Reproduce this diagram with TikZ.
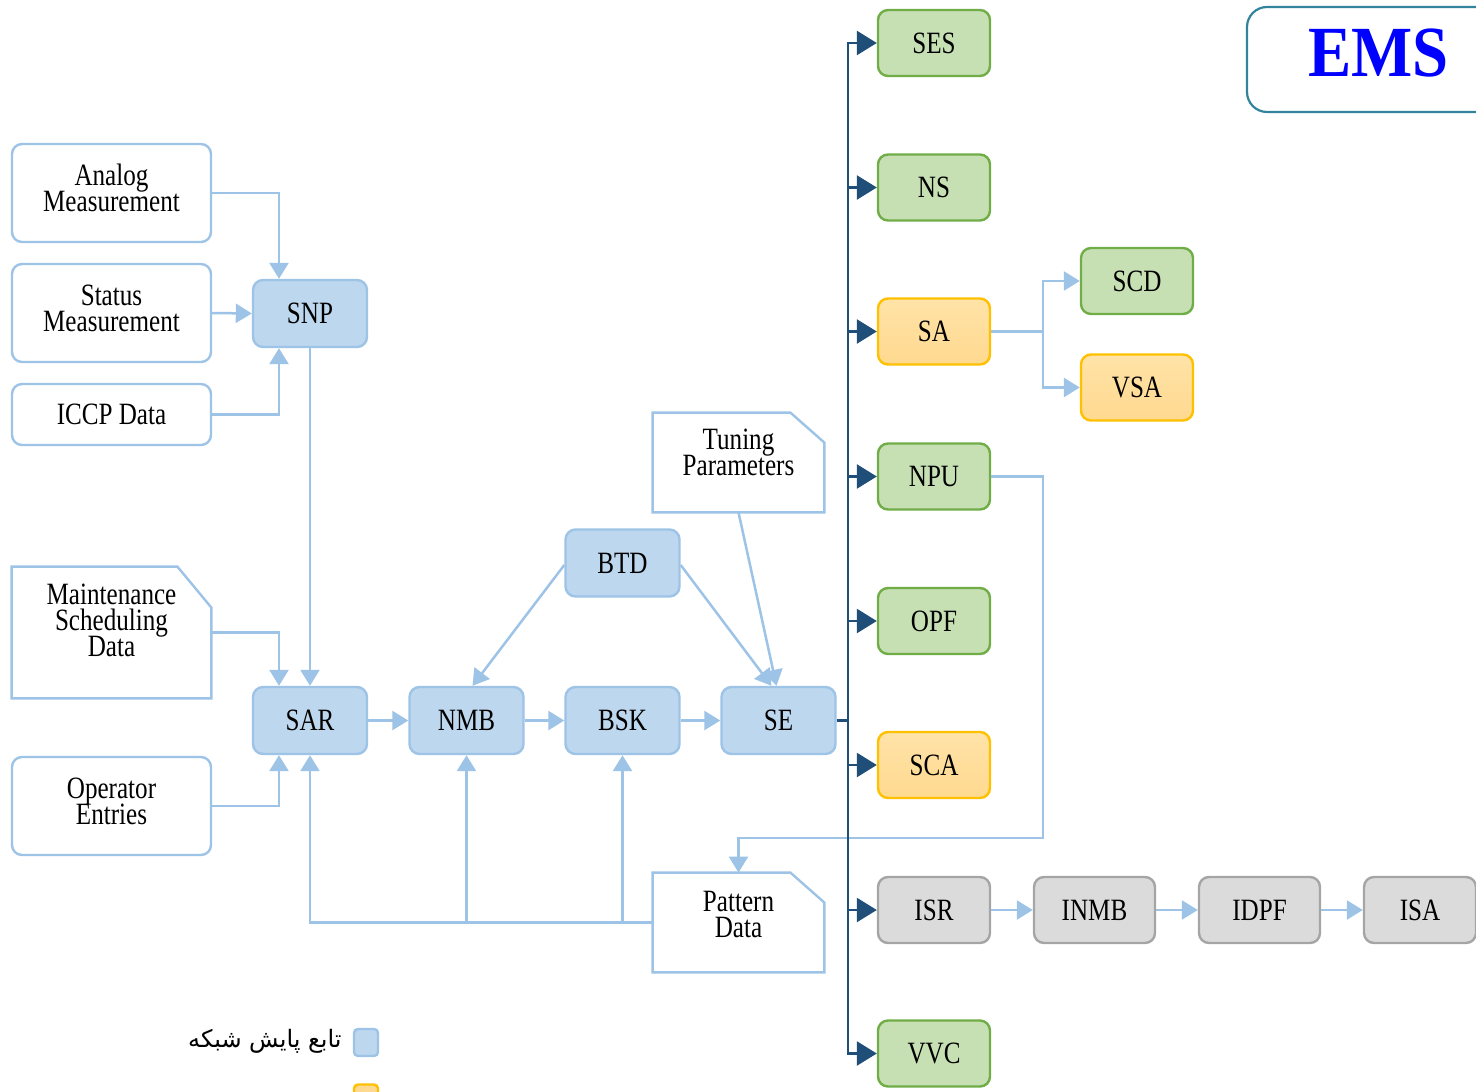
\documentclass[tikz,border=0pt]{standalone}
\usepackage{fontspec}
\setmainfont{Liberation Serif}[FakeStretch=0.81]
\newfontfamily\emsfont{Liberation Serif}[FakeStretch=0.9]
\newfontfamily\arabicfont[Script=Arabic]{DejaVu Sans}
\TeXXeTstate=1
\usetikzlibrary{arrows.meta,calc}
% keep the tight line spacing of the captions even for lines with descenders
\AtBeginDocument{\setlength{\lineskiplimit}{-20pt}}

\definecolor{inbord}{HTML}{9DC3E6}
\definecolor{fnfill}{HTML}{BDD7EE}
\definecolor{grfill}{HTML}{C6E0B4}
\definecolor{grbord}{HTML}{70AD47}
\definecolor{yefill}{HTML}{FFD98F}
\definecolor{yetop}{HTML}{FFE3A8}
\definecolor{yebord}{HTML}{FFC000}
\definecolor{gyfill}{HTML}{DBDBDB}
\definecolor{gybord}{HTML}{A5A5A5}
\definecolor{busc}{HTML}{1F4E79}
\definecolor{emsc}{HTML}{31849B}
\definecolor{emstext}{HTML}{0000FF}

\tikzset{
  inbox/.style={draw=inbord, line width=1.2pt, fill=white, rounded corners=5pt,
    minimum width=99.5pt, minimum height=49pt, inner sep=0pt},
  cutbox/.style={draw=none, inner sep=0pt},
  cutline/.style={draw=inbord, line width=1.2pt, fill=white},
  txt/.style={align=center, inner sep=0pt},
  fnbox/.style={draw=inbord, line width=1.2pt, fill=fnfill, rounded corners=5pt,
    minimum width=57pt, minimum height=33.5pt, inner sep=0pt},
  grbox/.style={draw=grbord, line width=1.2pt, fill=grfill, rounded corners=5pt,
    minimum width=56pt, minimum height=33pt, inner sep=0pt},
  yebox/.style={grbox, draw=yebord, top color=yetop, bottom color=yefill},
  gybox/.style={grbox, draw=gybord, fill=gyfill},
  conn/.style={draw=inbord, line width=1.25pt, -{Triangle[length=8pt,width=9.5pt]}},
  busline/.style={draw=busc, line width=1.3pt},
  busarr/.style={busline, -{Triangle[length=10pt,width=12pt]}},
}

\begin{document}
\begin{tikzpicture}[x=0.5pt,y=-0.5pt,font=\fontsize{15.5}{13}\selectfont]
\useasboundingbox (0,0) rectangle (1476,1091);
\clip (0,0) rectangle (1476,1091);

% title box, running off the right edge
\node[draw=emsc, line width=1.1pt, rounded corners=10pt, minimum width=150pt,
  minimum height=52.5pt, inner sep=0pt] (ems) at (1397,59.5) {};
\node[anchor=base west, inner sep=0pt, text=emstext,
  font=\emsfont\bfseries\fontsize{36}{36}\selectfont] (emst) at (1308,77) {EMS};

% data sources: frame nodes with their captions set slightly high
\node[inbox] (am) at (111.5,193) {};
\node[txt] (amt) at ([yshift=2.5pt]am.center) {Analog\\Measurement};
\node[inbox] (sm) at (111.5,313) {};
\node[txt] (smt) at ([yshift=2.5pt]sm.center) {Status\\Measurement};
\node[inbox, minimum height=30.5pt] (iccp) at (111.5,414.5) {ICCP Data};
\node[cutbox, minimum width=99.5pt, minimum height=65.5pt] (msd) at (111.5,632.5) {};
\draw[cutline] (msd.south west) -- (msd.north west) -- ([xshift=-17pt]msd.north east)
  -- ([yshift=-20.5pt]msd.north east) -- (msd.south east) -- cycle;
\node[txt] (msdt) at ([yshift=6pt]msd.center) {Maintenance\\Scheduling\\Data};
\node[inbox] (oe) at (111.5,806) {};
\node[txt] (oet) at ([yshift=2.5pt]oe.center) {Operator\\Entries};

\node[cutbox, minimum width=85.5pt, minimum height=49.5pt] (tp) at (738.5,462.5) {};
\draw[cutline] (tp.south west) -- (tp.north west) -- ([xshift=-17pt]tp.north east)
  -- ([yshift=-15pt]tp.north east) -- (tp.south east) -- cycle;
\node[txt] (tpt) at ([yshift=5pt]tp.center) {Tuning\\Parameters};

\node[cutbox, minimum width=85.5pt, minimum height=49.5pt] (pd) at (738.5,922.5) {};
\draw[cutline] (pd.south west) -- (pd.north west) -- ([xshift=-17pt]pd.north east)
  -- ([yshift=-15pt]pd.north east) -- (pd.south east) -- cycle;
\node[txt] (pdt) at ([yshift=4pt]pd.center) {Pattern\\Data};

% monitoring functions
\node[fnbox] (snp) at (310,313.5) {SNP};
\node[fnbox] (sar) at (310,720.5) {SAR};
\node[fnbox] (nmb) at (466.5,720.5) {NMB};
\node[fnbox] (bsk) at (622.5,720.5) {BSK};
\node[fnbox] (se)  at (778.5,720.5) {SE};
\node[fnbox] (btd) at (622.5,563) {BTD};

% analysis functions
\node[grbox] (ses) at (934,43) {SES};
\node[grbox] (ns)  at (934,187.5) {NS};
\node[yebox] (sa)  at (934,331.5) {SA};
\node[grbox] (npu) at (934,476.5) {NPU};
\node[grbox] (opf) at (934,621) {OPF};
\node[yebox] (sca) at (934,765) {SCA};
\node[gybox] (isr) at (934,910) {ISR};
\node[grbox] (vvc) at (934,1053.5) {VVC};
\node[grbox] (scd) at (1137,281) {SCD};
\node[yebox] (vsa) at (1137,387.5) {VSA};
\node[gybox, minimum width=60.5pt] (inmb) at (1094.5,910) {INMB};
\node[gybox, minimum width=60.5pt] (idpf) at (1259.5,910) {IDPF};
\node[gybox] (isa) at (1420,910) {ISA};

% inputs to SNP and SAR
\draw[conn] (am.east) -| ([xshift=-15.5pt]snp.north);
\draw[conn] (sm.east) -- (snp.west);
\draw[conn] (iccp.east) -| ([xshift=-15.5pt]snp.south);
\draw[conn] (snp.south) -- (sar.north);
\draw[conn] (msd.east) -| ([xshift=-15.5pt]sar.north);
\draw[conn] (oe.east) -| ([xshift=-15.5pt]sar.south);

% main chain
\draw[conn] (sar.east) -- (nmb.west);
\draw[conn] (nmb.east) -- (bsk.west);
\draw[conn] (bsk.east) -- (se.west);
\draw[conn] ([yshift=-1pt]btd.west) -- ([xshift=3pt]nmb.north);
\draw[conn] ([yshift=-1pt]btd.east) -- ([xshift=-3.5pt]se.north);
\draw[conn] (tp.south) -- ([xshift=-1pt]se.north);

% pattern data feedback
\draw[conn] (pd.west) -| (sar.south);
\draw[conn] (nmb.south |- pd.west) -- (nmb.south);
\draw[conn] (bsk.south |- pd.west) -- (bsk.south);
\draw[conn] (npu.east) -| (1043,838) -| (pd.north);

% SA branches
\coordinate (sajoin) at (1043,331.5);
\draw[conn] (sa.east) -- (sajoin) |- (scd.west);
\draw[conn] (sajoin) |- (vsa.west);

% ISR chain
\draw[conn] (isr.east) -- (inmb.west);
\draw[conn] (inmb.east) -- (idpf.west);
\draw[conn] (idpf.east) -- (isa.west);

% distribution bus from SE
\coordinate (bus) at (848,720.5);
\draw[busarr] (se.east) -- (bus) |- (ses.west);
\draw[busarr] (bus) |- (vvc.west);
\foreach \n in {ns,sa,npu,opf,sca,isr}
  \draw[busarr] (bus |- \n.west) -- (\n.west);

% legend
\node[draw=inbord, line width=1.2pt, fill=fnfill, rounded corners=2pt,
  minimum width=12pt, minimum height=13.5pt, inner sep=0pt] (lg1) at (366,1042.5) {};
\node[anchor=east, inner sep=0pt, font=\arabicfont\fontsize{12}{12}\selectfont]
  (lg1t) at (342,1041) {\beginR تابع پایش شبکه\endR};
\node[draw=yebord, line width=1.2pt, fill=yefill, rounded corners=2pt,
  minimum width=12pt, minimum height=13.5pt, inner sep=0pt] (lg2) at (366,1098) {};
\end{tikzpicture}
\end{document}
